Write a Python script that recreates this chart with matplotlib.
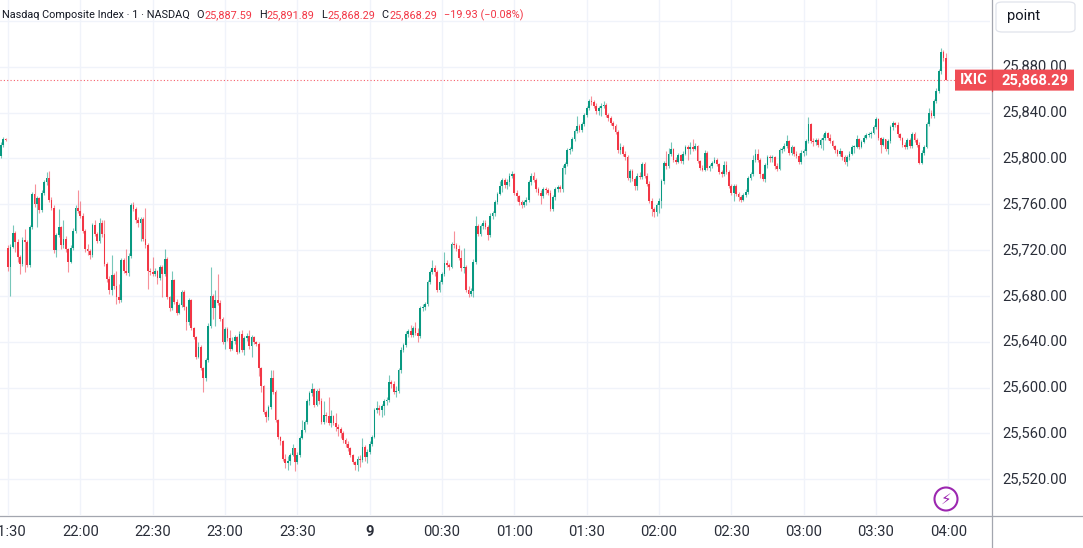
import matplotlib
matplotlib.use("Agg")
import matplotlib.pyplot as plt
import matplotlib.transforms as mtransforms
from matplotlib.patches import FancyBboxPatch, Ellipse
from matplotlib.lines import Line2D
import numpy as np

# ---------------- data ----------------
# last 3 one-minute bars of the previous session
prev_open = 25802
prev_close = [25812, 25817, 25816]
prev_high = [25814, 25819, 25818]
prev_low = [25800, 25810, 25815]

# regular session, one-minute bars 21:30 ... 03:59
session_open = 25722
close = [
    25705, 25723, 25735, 25727, 25714, 25708, 25729, 25727, 25707, 25740,
    25769, 25760, 25765, 25755, 25770, 25779, 25783, 25764, 25757, 25720,
    25733, 25740, 25724, 25730, 25721, 25710, 25722, 25737, 25757, 25754,
    25750, 25737, 25721, 25719, 25716, 25742, 25734, 25728, 25744, 25734,
    25708, 25695, 25685, 25698, 25689, 25679, 25676, 25711, 25702, 25700,
    25715, 25759, 25756, 25746, 25744, 25747, 25730, 25724, 25702, 25701,
    25699, 25702, 25696, 25705, 25699, 25712, 25679,
    25669, 25694, 25675, 25665, 25672, 25683, 25670, 25657, 25676, 25652,
    25644, 25627, 25635, 25617, 25608, 25624, 25654, 25680, 25669, 25676,
    25674, 25660, 25640, 25651, 25643, 25634, 25641, 25644, 25631, 25647,
    25633, 25643, 25645, 25636, 25644, 25640, 25638, 25617, 25601, 25579,
    25574, 25583, 25608, 25596, 25572, 25557, 25553, 25538, 25534, 25536,
    25541, 25547, 25535, 25541, 25556, 25563, 25570, 25588, 25595, 25599,
    25585, 25597, 25588, 25570, 25576, 25575,
    25569, 25575, 25569, 25566, 25564, 25560, 25554, 25551, 25547, 25541,
    25535, 25532, 25538, 25537, 25548, 25539, 25544, 25551, 25557, 25580,
    25582, 25580, 25584, 25588, 25589, 25605, 25603, 25596, 25597, 25615,
    25633, 25637, 25647, 25649, 25646, 25652, 25648, 25645, 25669, 25670,
    25673, 25692, 25701, 25704, 25701, 25685, 25692, 25699, 25709, 25707,
    25705, 25725, 25724, 25721, 25713, 25704, 25705, 25685, 25682, 25684,
    25710, 25741, 25734, 25741, 25744, 25740, 25733, 25750, 25752, 25762,
    25769,
    25776, 25781, 25777, 25779, 25785, 25786, 25770, 25767, 25762, 25759,
    25762, 25764, 25779, 25785, 25781, 25773, 25770, 25767, 25773, 25772,
    25770, 25756, 25766, 25773, 25775, 25773, 25792, 25795, 25807, 25808,
    25817, 25824, 25828, 25825, 25830, 25838, 25844, 25850, 25849, 25846,
    25841, 25844, 25846, 25847, 25838, 25835, 25831, 25828, 25823, 25807,
    25810, 25804, 25801, 25783, 25789, 25782, 25776, 25785, 25784, 25795,
    25785, 25778, 25763, 25756, 25753, 25759, 25763, 25780, 25796,
    25793, 25804, 25808, 25799, 25797, 25803, 25798, 25804, 25810, 25808,
    25810, 25808, 25811, 25798, 25792, 25790, 25805, 25792, 25793, 25796,
    25799, 25795, 25788, 25786, 25794, 25788, 25776, 25770, 25776, 25769,
    25766, 25764, 25768, 25771, 25783, 25786, 25799, 25804, 25799, 25786,
    25782, 25794, 25801, 25800, 25801, 25793, 25791, 25807, 25808, 25811,
    25815, 25805, 25810, 25804, 25802, 25797, 25805, 25806, 25815, 25830,
    25815, 25814, 25816, 25812, 25816, 25818, 25822, 25818,
    25815, 25811, 25807, 25804, 25806, 25801, 25797, 25801, 25804, 25810,
    25810, 25817, 25810, 25814, 25818, 25820, 25821, 25822, 25827, 25834,
    25818, 25812, 25817, 25808, 25815, 25827, 25831, 25829, 25821, 25818,
    25812, 25810, 25816, 25811, 25821, 25816, 25812, 25796, 25805, 25810,
    25830, 25840, 25837, 25850, 25859, 25876, 25893, 25887.59, 25868.29,
]
high = [
    25724, 25725, 25742, 25737, 25730, 25716, 25731, 25738, 25729, 25742,
    25771, 25778, 25767, 25766, 25772, 25781, 25788, 25789, 25766, 25759,
    25735, 25756, 25741, 25746, 25732, 25722, 25724, 25739, 25759, 25772,
    25763, 25752, 25738, 25725, 25721, 25744, 25746, 25736, 25748, 25746,
    25746, 25710, 25697, 25716, 25700, 25702, 25690, 25713, 25713, 25721,
    25717, 25761, 25762, 25758, 25749, 25749, 25749, 25757, 25726, 25704,
    25714, 25704, 25703, 25707, 25707, 25721, 25714,
    25680, 25702, 25695, 25677, 25674, 25685, 25685, 25671, 25678, 25677,
    25653, 25645, 25640, 25637, 25618, 25626, 25656, 25705, 25682, 25685,
    25699, 25676, 25662, 25653, 25653, 25650, 25644, 25646, 25645, 25649,
    25650, 25645, 25648, 25650, 25646, 25645, 25641, 25640, 25618, 25602,
    25580, 25585, 25615, 25615, 25598, 25573, 25558, 25554, 25542, 25540,
    25543, 25551, 25547, 25544, 25558, 25572, 25572, 25590, 25597, 25604,
    25600, 25599, 25600, 25591, 25588, 25579,
    25592, 25580, 25576, 25578, 25568, 25566, 25562, 25556, 25553, 25548,
    25542, 25536, 25540, 25541, 25556, 25550, 25546, 25553, 25559, 25582,
    25588, 25585, 25586, 25590, 25592, 25611, 25607, 25606, 25601, 25617,
    25635, 25639, 25649, 25651, 25655, 25654, 25657, 25652, 25671, 25673,
    25675, 25694, 25703, 25711, 25707, 25703, 25694, 25701, 25718, 25711,
    25709, 25727, 25737, 25726, 25724, 25720, 25722, 25707, 25689, 25687,
    25712, 25750, 25743, 25743, 25746, 25746, 25742, 25752, 25754, 25764,
    25771,
    25780, 25783, 25783, 25782, 25787, 25789, 25787, 25772, 25768, 25764,
    25764, 25766, 25781, 25787, 25788, 25783, 25775, 25772, 25775, 25775,
    25774, 25772, 25768, 25775, 25777, 25777, 25794, 25797, 25809, 25810,
    25819, 25826, 25837, 25830, 25832, 25840, 25846, 25852, 25854, 25851,
    25848, 25846, 25848, 25850, 25848, 25840, 25837, 25833, 25830, 25825,
    25813, 25812, 25806, 25803, 25791, 25791, 25784, 25787, 25788, 25797,
    25797, 25787, 25780, 25765, 25758, 25761, 25765, 25782, 25798,
    25806, 25809, 25814, 25809, 25801, 25805, 25804, 25806, 25812, 25812,
    25814, 25817, 25813, 25812, 25799, 25794, 25807, 25806, 25795, 25798,
    25801, 25800, 25796, 25790, 25798, 25798, 25790, 25778, 25778, 25778,
    25771, 25768, 25770, 25773, 25785, 25788, 25803, 25808, 25808, 25800,
    25787, 25796, 25803, 25803, 25803, 25802, 25796, 25809, 25810, 25813,
    25820, 25816, 25812, 25811, 25806, 25805, 25807, 25808, 25817, 25836,
    25831, 25818, 25818, 25818, 25818, 25821, 25824, 25823,
    25821, 25816, 25812, 25808, 25809, 25806, 25803, 25803, 25806, 25812,
    25812, 25820, 25818, 25816, 25820, 25822, 25823, 25824, 25829, 25836,
    25835, 25819, 25819, 25817, 25817, 25829, 25833, 25832, 25832, 25822,
    25819, 25814, 25818, 25818, 25823, 25823, 25818, 25814, 25807, 25812,
    25832, 25844, 25842, 25852, 25861, 25878, 25896, 25895, 25891.89,
]
low = [
    25702, 25680, 25722, 25718, 25710, 25699, 25706, 25701, 25705, 25705,
    25738, 25758, 25740, 25752, 25753, 25768, 25777, 25762, 25755, 25717,
    25714, 25731, 25721, 25722, 25718, 25701, 25709, 25720, 25735, 25752,
    25748, 25735, 25718, 25716, 25712, 25714, 25732, 25726, 25726, 25731,
    25706, 25692, 25682, 25681, 25686, 25673, 25674, 25675, 25700, 25698,
    25697, 25713, 25754, 25744, 25740, 25728, 25728, 25722, 25686, 25698,
    25697, 25697, 25690, 25694, 25679, 25697, 25677,
    25667, 25668, 25673, 25663, 25664, 25670, 25668, 25650, 25655, 25650,
    25642, 25625, 25626, 25615, 25596, 25606, 25622, 25652, 25660, 25654,
    25672, 25658, 25638, 25634, 25641, 25632, 25633, 25638, 25629, 25630,
    25631, 25628, 25641, 25634, 25627, 25638, 25636, 25610, 25596, 25577,
    25570, 25572, 25581, 25594, 25570, 25555, 25550, 25536, 25530, 25528,
    25532, 25540, 25527, 25533, 25539, 25555, 25561, 25568, 25585, 25593,
    25583, 25584, 25586, 25568, 25568, 25570,
    25567, 25566, 25567, 25562, 25558, 25556, 25552, 25548, 25545, 25539,
    25533, 25528, 25527, 25531, 25535, 25536, 25534, 25542, 25549, 25556,
    25578, 25576, 25574, 25576, 25585, 25587, 25600, 25594, 25592, 25595,
    25613, 25631, 25635, 25644, 25644, 25644, 25646, 25640, 25643, 25667,
    25668, 25671, 25690, 25699, 25697, 25683, 25683, 25690, 25697, 25705,
    25703, 25704, 25722, 25719, 25711, 25702, 25700, 25683, 25679, 25680,
    25679, 25708, 25732, 25732, 25738, 25738, 25729, 25731, 25747, 25750,
    25760,
    25768, 25771, 25774, 25773, 25776, 25783, 25768, 25763, 25759, 25757,
    25758, 25759, 25762, 25777, 25779, 25771, 25768, 25760, 25765, 25769,
    25768, 25754, 25754, 25764, 25771, 25771, 25771, 25786, 25793, 25804,
    25806, 25815, 25822, 25823, 25823, 25828, 25836, 25842, 25847, 25844,
    25839, 25838, 25837, 25844, 25836, 25833, 25829, 25826, 25821, 25805,
    25804, 25802, 25799, 25781, 25779, 25780, 25772, 25772, 25782, 25782,
    25783, 25776, 25761, 25750, 25749, 25750, 25752, 25757, 25778,
    25791, 25792, 25802, 25797, 25795, 25796, 25796, 25795, 25803, 25799,
    25804, 25806, 25807, 25796, 25790, 25789, 25789, 25790, 25789, 25792,
    25796, 25793, 25786, 25784, 25785, 25786, 25774, 25768, 25763, 25767,
    25763, 25762, 25763, 25766, 25769, 25781, 25785, 25797, 25797, 25783,
    25780, 25779, 25792, 25797, 25797, 25791, 25789, 25790, 25805, 25806,
    25809, 25803, 25803, 25802, 25800, 25795, 25795, 25802, 25803, 25813,
    25813, 25811, 25812, 25810, 25809, 25807, 25816, 25816,
    25813, 25809, 25805, 25802, 25802, 25799, 25795, 25793, 25799, 25803,
    25805, 25809, 25808, 25809, 25813, 25817, 25819, 25818, 25821, 25826,
    25816, 25805, 25811, 25806, 25804, 25813, 25825, 25827, 25819, 25816,
    25810, 25808, 25808, 25809, 25809, 25814, 25810, 25795, 25795, 25803,
    25809, 25828, 25835, 25835, 25848, 25857, 25874, 25885, 25868.29,
]

time_labels = ["21:30", "22:00", "22:30", "23:00", "23:30", "9", "00:30",
               "01:00", "01:30", "02:00", "02:30", "03:00", "03:30", "04:00"]
price_ticks = [25520, 25560, 25600, 25640, 25680, 25720, 25760, 25800, 25840, 25880]
price_labels = ["25,520.00", "25,560.00", "25,600.00", "25,640.00", "25,680.00",
                "25,720.00", "25,760.00", "25,800.00", "25,840.00", "25,880.00"]
extra_grid = [25920]
symbol = "IXIC"
last_price = 25868.29
last_price_text = "25,868.29"
title = "Nasdaq Composite Index \u00b7 1 \u00b7 NASDAQ"
ohlc_labels = ["O", "H", "L", "C"]
ohlc_values = ["25,887.59", "25,891.89", "25,868.29", "25,868.29"]
change_text = "\u221219.93 (\u22120.08%)"

# ---------------- build arrays ----------------
all_close = np.array(prev_close + close, dtype=float)
all_high = np.array(prev_high + high, dtype=float)
all_low = np.array(prev_low + low, dtype=float)
idx = np.arange(-len(prev_close), len(close))
all_open = np.empty_like(all_close)
all_open[0] = prev_open
all_open[1:] = all_close[:-1]
all_open[len(prev_close)] = session_open
all_high = np.maximum(all_high, np.maximum(all_open, all_close))
all_low = np.minimum(all_low, np.minimum(all_open, all_close))

UP = "#089981"
DOWN = "#f23645"
up = all_close >= all_open
body_col = np.where(up, UP, DOWN)

W, H = 1083, 548
fig = plt.figure(figsize=(W / 100, H / 100), dpi=100)
fig.patch.set_facecolor("white")
ax = fig.add_axes([0, 1 - 515 / H, 990 / W, 515 / H])
ax.set_facecolor("white")
for s in ax.spines.values():
    s.set_visible(False)
ax.set_xticks([])
ax.set_yticks([])

ax.set_xlim(-3.32, 407.3)
ax.set_ylim(25488.8, 25938.2)

GRID = "#f0f3fa"
for p in price_ticks + extra_grid:
    ax.axhline(p, color=GRID, lw=1.0, zorder=0)
tick_pos = [30 * k for k in range(len(time_labels))]
for t in tick_pos:
    ax.axvline(t, color=GRID, lw=1.0, zorder=0)

# wicks
ax.vlines(idx[up], all_low[up], all_high[up], colors=UP, linewidth=0.8, alpha=0.55, zorder=2)
ax.vlines(idx[~up], all_low[~up], all_high[~up], colors=DOWN, linewidth=0.8, alpha=0.55, zorder=2)
# bodies
bottoms = np.minimum(all_open, all_close)
heights = np.abs(all_close - all_open)
heights = np.where(heights < 0.8, 0.8, heights)
ax.bar(idx, heights, bottom=bottoms, width=0.72, color=body_col, linewidth=0, zorder=3)

# last price dotted line
ax.axhline(last_price, color=DOWN, lw=0.8, ls=(0, (1, 2)), alpha=0.8, zorder=1)

# ---------------- axes texts ----------------
TXT = "#2a2e39"
FONT = "Roboto"
ytrans = mtransforms.blended_transform_factory(fig.transFigure, ax.transData)
xtrans = mtransforms.blended_transform_factory(ax.transData, fig.transFigure)

for p, lab in zip(price_ticks, price_labels):
    fig.text(1002 / W, p, lab, transform=ytrans, ha="left", va="center",
             fontsize=10.6, color=TXT, family=FONT)

for t, lab in zip(tick_pos, time_labels):
    fig.text(t, 1 - 532 / H, lab, transform=xtrans, ha="center", va="center",
             fontsize=10.6, color=TXT, family=FONT,
             fontweight="bold" if lab == "9" else "normal")

# separators
fig.add_artist(Line2D([991.5 / W, 991.5 / W], [0, 1], transform=fig.transFigure,
                      color="#a3a6af", lw=0.9))
fig.add_artist(Line2D([0, 1], [1 - 515.5 / H, 1 - 515.5 / H], transform=fig.transFigure,
                      color="#a3a6af", lw=0.9))

# last price label
box_h = 21 / 1.146
lbl = FancyBboxPatch((955 / W, last_price - box_h / 2), 119 / W, box_h,
                     boxstyle="round,pad=0,rounding_size=0.002",
                     transform=ytrans, facecolor="#f04d55", edgecolor="none",
                     zorder=10, clip_on=False)
fig.add_artist(lbl)
fig.add_artist(Line2D([991.5 / W, 991.5 / W], [last_price - box_h / 2, last_price + box_h / 2],
                      transform=ytrans, color="#d9444b", lw=0.9, zorder=11))
fig.text(960 / W, last_price, symbol, transform=ytrans, ha="left", va="center",
         fontsize=10.6, color="white", family=FONT, fontweight="bold", zorder=12)
fig.text(1002 / W, last_price, last_price_text, transform=ytrans, ha="left", va="center",
         fontsize=10.6, color="white", family=FONT, fontweight="bold", zorder=12)

# "point" button
btn = FancyBboxPatch((996 / W, 1 - 32 / H), 79 / W, 30 / H,
                     boxstyle="round,pad=0,rounding_size=0.006",
                     transform=fig.transFigure, facecolor="white",
                     edgecolor="#e0e3eb", lw=0.9, zorder=10)
fig.add_artist(btn)
fig.text(1007 / W, 1 - 16 / H, "point", ha="left", va="center", fontsize=10.6,
         color="#131722", family=FONT, zorder=11)

# lightning icon
circ = Ellipse((946 / W, 1 - 499 / H), 23 / W, 23 / H, transform=fig.transFigure,
               facecolor="white", edgecolor="#9c27b0", lw=1.5, zorder=10)
fig.add_artist(circ)
fig.text(946 / W, 1 - 499.5 / H, "\u26a1", ha="center", va="center", fontsize=11,
         color="#9c27b0", family="DejaVu Sans", zorder=11)

# header: pieces laid out one after another using measured text widths
HY = 1 - 15 / H
HFS = 7.8
renderer = fig.canvas.get_renderer()
cursor = 2.0


def put(text, color, gap_after):
    global cursor
    t = fig.text(cursor / W, HY, text, ha="left", va="center", fontsize=HFS,
                 color=color, family=FONT)
    w = t.get_window_extent(renderer=renderer).width
    cursor += w + gap_after


put(title, "#131722", 6.5)
for l, v in zip(ohlc_labels, ohlc_values):
    put(l, "#131722", 0.5)
    put(v, DOWN, 6.5)
put(change_text, DOWN, 0)

fig.savefig("out.png", dpi=100, facecolor="white")
